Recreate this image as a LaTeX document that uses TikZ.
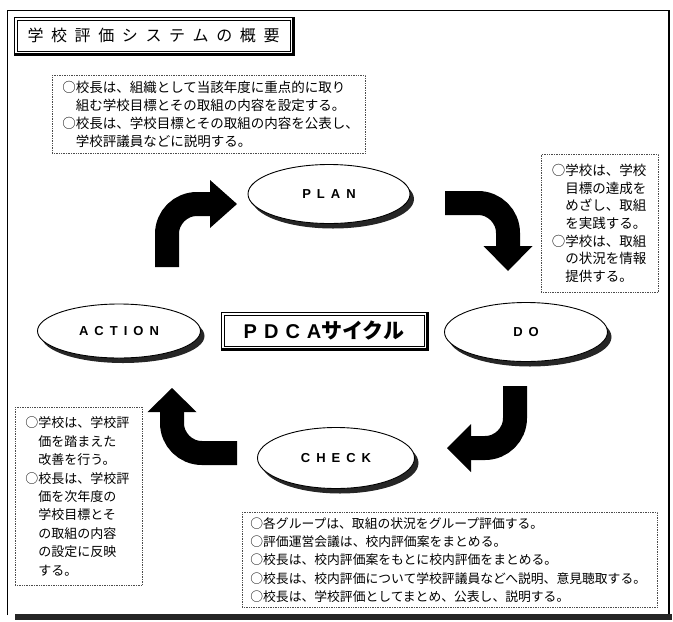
\documentclass[tikz,border=0pt]{standalone}
\usepackage{fontspec}
\setmainfont{Noto Sans CJK JP}
\newfontfamily\lat{Liberation Sans}
\usetikzlibrary{shapes.geometric,shadows}
\newcommand\tsp{\hspace{7.6pt}}
\newcommand\lsp{\hspace{6pt}}
\tikzset{
  ell/.style={ellipse, draw=black, line width=0.9pt, fill=white,
    minimum width=162pt, minimum height=58pt, inner sep=0pt,
    font=\lat\bfseries\fontsize{13}{16}\selectfont,
    drop shadow={shadow xshift=4pt, shadow yshift=-5pt, fill=black!85, opacity=1}},
  note/.style={draw=black!70, densely dotted, line width=0.7pt, anchor=north west,
    align=left, inner xsep=10pt, inner ysep=0pt, font=\fontsize{13.5}{18}\selectfont},
  shaft/.style={line width=24pt, draw=black, rounded corners=30pt},
  head/.style={fill=black},
  frame/.style={draw=black, line width=1.1pt, anchor=north west, inner sep=0pt},
}
\begin{document}
\begin{tikzpicture}[x=1pt,y=-1pt]
\useasboundingbox (0,0) rectangle (673,622);
% outer frame
\draw[line width=0.8pt] (7,615) -- (7,10) -- (669,10);
\draw[line width=2pt] (669,10) -- (669,620);
\draw[line width=6pt, black!85] (15,617) -- (672,617);

% title
\node[frame, minimum width=278pt, minimum height=36pt,
      font=\fontsize{16}{18}\selectfont] (title) at (14,17)
  {学\tsp 校\tsp 評\tsp 価\tsp シ\tsp ス\tsp テ\tsp ム\tsp の\tsp 概\tsp 要};
\draw[line width=0.5pt] ([shift={(3pt,-3pt)}]title.north west) rectangle ([shift={(-3pt,3pt)}]title.south east);
\draw[line width=2pt] ([shift={(1pt,0pt)}]title.north east) -- ([shift={(1pt,-1pt)}]title.south east) -- ([shift={(0pt,-1pt)}]title.south west);

% notes
\node[note, text width=293pt, minimum height=78pt] (planN) at (52,75)
  {○校長は、組織として当該年度に重点的に取り\\
   　組む学校目標とその取組の内容を設定する。\\
   ○校長は、学校目標とその取組の内容を公表し、\\
   　学校評議員などに説明する。};
\node[note, text width=96pt, inner xsep=10.5pt, minimum height=138pt, font=\fontsize{13.5}{17.7}\selectfont] (doN) at (541,154)
  {○学校は、学校\\
   　目標の達成を\\
   　めざし、取組\\
   　を実践する。\\
   ○学校は、取組\\
   　の状況を情報\\
   　提供する。};
\node[note, text width=107pt, minimum height=178pt, font=\fontsize{13}{18.4}\selectfont] (actN) at (15,407)
  {○学校は、学校評\\
   　価を踏まえた\\
   　改善を行う。\\
   ○校長は、学校評\\
   　価を次年度の\\
   　学校目標とそ\\
   　の取組の内容\\
   　の設定に反映\\
   　する。};
\node[note, text width=399pt, inner xsep=8pt, minimum height=95pt, font=\fontsize{12.8}{18.3}\selectfont] (chkN) at (242,512)
  {○各グループは、取組の状況をグループ評価する。\\
   ○評価運営会議は、校内評価案をまとめる。\\
   ○校長は、校内評価案をもとに校内評価をまとめる。\\
   ○校長は、校内評価について学校評議員などへ説明、意見聴取する。\\
   ○校長は、学校評価としてまとめ、公表し、説明する。};

% ellipses
\node[ell, minimum height=59pt] (plan) at (329,194) {P\lsp L\lsp A\lsp N};
\node[ell, minimum width=163pt, minimum height=59pt] (do) at (526,332) {D\lsp O};
\node[ell, minimum width=163pt, minimum height=54pt] (act) at (119,331) {A\lsp C\lsp T\lsp I\lsp O\lsp N};
\node[ell, minimum width=157pt, minimum height=61pt] (chk) at (336,458) {C\lsp H\lsp E\lsp C\lsp K};

% PDCA box
\node[frame, minimum width=205pt, minimum height=36pt] (pdca) at (221,312)
  {{\lat\bfseries\fontsize{20}{24}\selectfont P\hspace{7pt}D\hspace{7pt}C\hspace{7pt}A}{\bfseries\fontsize{21}{24}\selectfont サイクル}};
\draw[line width=0.5pt] ([shift={(3pt,-3pt)}]pdca.north west) rectangle ([shift={(-3pt,3pt)}]pdca.south east);
\draw[line width=1.8pt] ([shift={(1pt,0pt)}]pdca.north east) -- ([shift={(1pt,-1pt)}]pdca.south east) -- ([shift={(0pt,-1pt)}]pdca.south west);

% bent arrows
\coordinate (a1s) at (167,267); \coordinate (a1h) at (210,204); \coordinate (a1t) at (237,204);
\coordinate (a2s) at (445,203); \coordinate (a2h) at (508,246); \coordinate (a2t) at (508,271);
\coordinate (a3s) at (515,386); \coordinate (a3h) at (471,448); \coordinate (a3t) at (447,448);
\coordinate (a4s) at (237,453); \coordinate (a4h) at (172,412); \coordinate (a4t) at (172,388);

\draw[shaft] (a1s) |- (a1h);
\fill[head] ([yshift=24pt]a1h) -- ([yshift=-24pt]a1h) -- (a1t) -- cycle;
\draw[shaft] (a2s) -| (a2h);
\fill[head] ([xshift=-24.5pt]a2h) -- ([xshift=24.5pt]a2h) -- (a2t) -- cycle;
\draw[shaft] (a3s) |- (a3h);
\fill[head] ([yshift=24pt]a3h) -- ([yshift=-24pt]a3h) -- (a3t) -- cycle;
\draw[shaft] (a4s) -| (a4h);
\fill[head] ([xshift=-24.5pt]a4h) -- ([xshift=24.5pt]a4h) -- (a4t) -- cycle;
\end{tikzpicture}
\end{document}
